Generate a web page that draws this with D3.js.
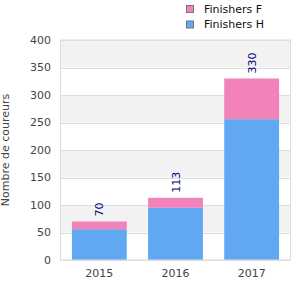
<!DOCTYPE html>
<html><head><meta charset="utf-8">
<script src="https://cdn.jsdelivr.net/npm/d3@7"></script>
<style>body{margin:0;background:#fff}svg{display:block;font-family:"DejaVu Sans",sans-serif}</style>
</head><body>
<svg id="c" width="300" height="300"></svg>
<script>
const categories = ["2015","2016","2017"];
const finishersH = [56, 95, 256];
const finishersF = [14, 18, 74];
const totals = [70, 113, 330];
const yTicks = [0,50,100,150,200,250,300,350,400];
const seriesNames = ["Finishers F","Finishers H"];
const colors = {"Finishers F":"#f282b9","Finishers H":"#60a8f2"};

const svg = d3.select("#c");
const m = {l:60.5, r:290.5, t:40, b:260};
const x = d3.scaleBand().domain(categories).range([m.l, m.r]).paddingInner(0.28).paddingOuter(0.15);
const y = d3.scaleLinear().domain([0,400]).range([m.b, m.t]);

// bands
for (let i=0;i<yTicks.length-1;i++){
  if (i%2===1){
    svg.append("rect").attr("x",m.l).attr("width",m.r-m.l)
      .attr("y",y(yTicks[i+1])).attr("height",y(yTicks[i])-y(yTicks[i+1])).attr("fill","#f2f2f2");
  }
}
// grid
svg.append("g").selectAll("line").data(yTicks).join("line")
  .attr("x1",m.l).attr("x2",m.r).attr("y1",d=>Math.round(y(d))+0.5).attr("y2",d=>Math.round(y(d))+0.5)
  .attr("stroke","#dddddd");

// stacked bars
const data = categories.map((c,i)=>({cat:c,"Finishers H":finishersH[i],"Finishers F":finishersF[i]}));
const stack = d3.stack().keys(["Finishers H","Finishers F"])(data);
svg.append("g").selectAll("g").data(stack).join("g").attr("fill",s=>colors[s.key])
  .selectAll("rect").data(s=>s).join("rect")
  .attr("x",d=>x(d.data.cat)).attr("width",x.bandwidth())
  .attr("y",d=>y(d[1])).attr("height",d=>y(d[0])-y(d[1]));

// border
svg.append("rect").attr("x",m.l).attr("y",m.t).attr("width",m.r-m.l).attr("height",m.b-m.t)
  .attr("fill","none").attr("stroke","#dddddd");

// y axis labels
svg.append("g").selectAll("text").data(yTicks).join("text")
  .attr("x",51).attr("y",d=>y(d)).attr("dy","0.35em").attr("text-anchor","end")
  .attr("font-size",11).attr("fill","#444").text(d=>d);
// x labels
svg.append("g").selectAll("text").data(categories).join("text")
  .attr("x",d=>x(d)+x.bandwidth()/2).attr("y",277).attr("text-anchor","middle")
  .attr("font-size",11).attr("fill","#444").text(d=>d);

// value labels
svg.append("g").selectAll("text").data(categories).join("text")
  .attr("transform",(d,i)=>`translate(${x(d)+x.bandwidth()/2+4},${y(totals[i])-5}) rotate(-90)`)
  .attr("font-size",11).attr("fill","#000080").text((d,i)=>totals[i]);

// y title
svg.append("text").attr("transform","translate(9,150) rotate(-90)").attr("text-anchor","middle")
  .attr("font-size",11).attr("fill","#444").text("Nombre de couruers".replace("couruers","coureurs"));

// legend
const lg = svg.append("g").selectAll("g").data(seriesNames).join("g")
  .attr("transform",(d,i)=>`translate(186,${5+i*15.5})`);
lg.append("rect").attr("x",0.5).attr("y",0.5).attr("width",7).attr("height",7)
  .attr("fill",d=>colors[d]).attr("stroke","#777");
lg.append("text").attr("x",18).attr("y",4).attr("dy","0.35em").attr("font-size",11).attr("fill","#111").text(d=>d);
</script>
</body></html>
